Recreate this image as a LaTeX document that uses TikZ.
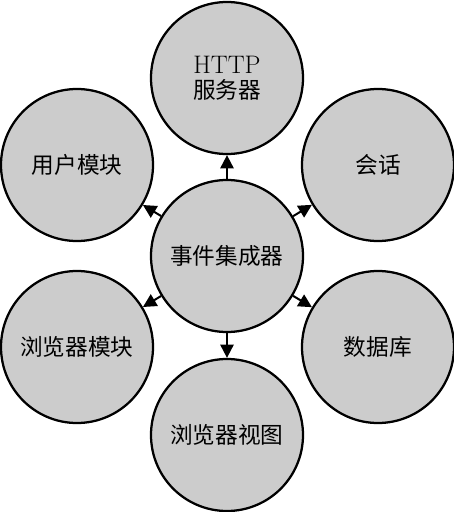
\documentclass[tikz,border=0pt]{standalone}
\usepackage{fontspec}
\newfontfamily\cjk{Noto Sans CJK SC}
\usetikzlibrary{arrows.meta}
\tikzset{
  modulo/.style={circle, draw, line width=1.7pt, fill=black!20,
    minimum size=114pt, inner sep=0pt, align=center,
    font=\cjk\fontsize{17}{19}\selectfont},
  seta/.style={-{Triangle[length=10pt,width=10pt]}, line width=1.5pt}
}
\begin{document}
\begin{tikzpicture}[x=0.75pt,y=-0.75pt]
  \useasboundingbox (0,0) rectangle (454,512);
  % Nucleo central
  \node[modulo] (hub) at (227,256) {事件集成器};
  % Modulos em volta
  \node[modulo] (http) at (227,78) {{\rmfamily\fontsize{19}{19}\selectfont HTTP}\\服务器};
  \node[modulo] (user) at (77,165) {用户模块};
  \node[modulo] (sess) at (378,165) {会话};
  \node[modulo] (bmod) at (77,347) {浏览器模块};
  \node[modulo] (db) at (378,347) {数据库};
  \node[modulo] (view) at (227,435) {浏览器视图};
  % Ligacoes
  \foreach \alvo in {http,user,sess,bmod,db,view}
    \draw[seta] (hub) -- (\alvo);
\end{tikzpicture}
\end{document}
